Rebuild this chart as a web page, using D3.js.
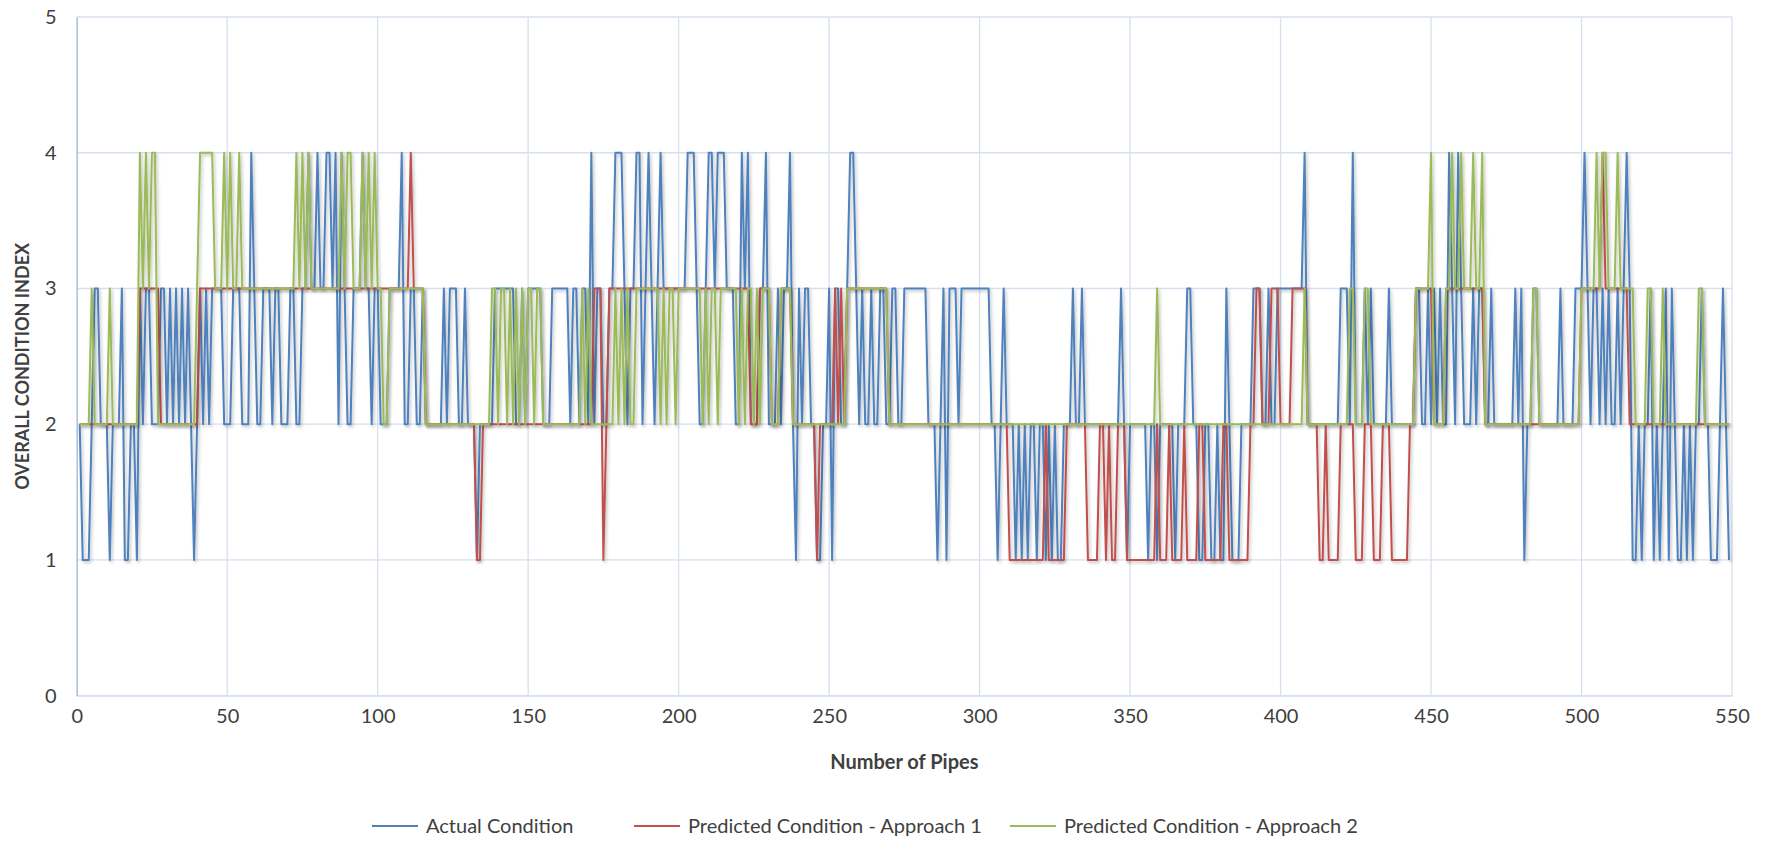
<!DOCTYPE html>
<html lang="en">
<head>
    <meta charset="UTF-8">
    <title>Overall Condition Index</title>
    <script src="https://d3js.org/d3.v7.min.js"></script>
    <style>
        body { margin: 0; background: #fff; }
        text { font-family: Lato, "Open Sans", sans-serif; fill: #404040; }
    </style>
</head>
<body>
    <div id="chart"></div>
    <script>
        // series values, pipe 1 .. 549
        const actual = [
            2,1,1,1,2,3,3,2,2,2, 1,2,2,2,3,1,1,2,2,1, 3,2,3,3,2,2,2,3,3,2, 3,2,3,2,3,2,3,2,1,2,
            3,2,3,2,3,3,3,3,2,2, 2,3,3,3,2,2,2,4,3,2, 2,3,3,3,2,3,3,2,2,2, 3,3,2,2,3,3,4,3,3,4,
            3,3,4,4,3,4,2,4,3,2, 2,3,3,3,4,3,3,2,3,3, 2,2,2,3,3,3,3,4,2,2, 3,3,2,2,3,2,2,2,2,2,
            2,3,2,3,3,3,2,2,3,2, 2,2,1,2,2,2,2,2,3,3, 3,3,3,3,3,2,2,3,2,3, 3,3,3,3,2,2,2,3,3,3,
            3,3,3,2,3,3,2,3,3,2, 4,2,3,3,2,2,3,3,4,4, 4,3,2,3,3,4,4,2,3,4, 3,2,3,4,3,3,3,3,3,3,
            3,3,4,4,4,3,2,2,3,4, 4,3,4,4,4,3,3,3,2,2, 4,3,4,2,2,2,3,3,4,2, 2,2,3,2,3,3,4,2,1,3,
            2,3,3,2,2,1,1,2,2,3, 1,3,3,2,2,3,4,4,3,2, 3,2,2,3,2,2,3,3,2,2, 3,3,2,2,3,3,3,3,3,3,
            3,3,2,2,2,1,2,3,1,3, 3,3,2,3,3,3,3,3,3,3, 3,3,3,2,2,1,2,3,2,2, 2,1,2,1,2,1,2,2,1,2,
            2,1,2,1,2,1,1,2,2,2, 3,2,2,3,2,2,2,2,2,2, 2,2,2,2,2,2,3,2,1,2, 2,2,2,2,2,1,2,2,1,2,
            2,2,2,2,1,2,2,2,3,3, 2,2,1,1,2,2,1,1,2,1, 1,3,2,1,1,1,2,2,2,2, 3,3,3,2,2,3,2,2,3,3,
            3,3,3,3,3,3,3,4,2,2, 2,2,2,2,2,2,2,2,2,3, 3,3,2,4,2,2,2,3,2,3, 2,2,2,2,2,3,2,2,2,2,
            2,2,2,2,3,3,2,2,3,2, 3,2,3,2,2,4,3,2,4,3, 2,2,2,3,2,3,3,2,2,3, 2,2,2,2,2,2,2,3,2,3,
            1,2,2,3,3,2,2,2,2,2, 2,2,3,2,2,2,2,3,3,3, 4,3,2,3,3,2,3,2,3,2, 2,3,2,3,4,3,1,1,2,1,
            2,2,3,1,2,1,2,3,1,3, 2,1,1,2,1,2,1,2,2,3, 2,2,1,1,1,2,3,2,1
        ];
        const approach1 = [
            2,2,2,2,2,2,2,2,2,2, 2,2,2,2,2,2,2,2,2,2, 3,3,3,3,3,3,3,2,2,2, 2,2,2,2,2,2,2,2,2,2,
            3,3,3,3,3,3,3,3,3,3, 3,3,3,3,3,3,3,3,3,3, 3,3,3,3,3,3,3,3,3,3, 3,3,3,3,3,3,3,3,3,3,
            3,3,3,3,3,3,3,3,3,3, 3,3,3,3,3,3,3,3,3,3, 3,3,3,3,3,3,3,3,3,3, 4,3,3,3,3,2,2,2,2,2,
            2,2,2,2,2,2,2,2,2,2, 2,2,1,1,2,2,2,2,2,2, 2,2,2,2,2,2,2,2,2,2, 2,2,2,2,2,2,2,2,2,2,
            2,2,2,2,2,2,2,2,2,2, 2,3,3,3,1,2,3,3,3,3, 3,3,3,3,3,3,3,3,3,3, 3,3,3,3,3,3,3,3,3,3,
            3,3,3,3,3,3,3,3,3,3, 3,3,3,3,3,3,3,3,3,3, 3,3,3,2,2,2,3,3,3,3, 2,2,2,3,3,3,3,2,2,2,
            2,2,2,2,2,1,2,2,2,2, 2,3,2,3,2,3,3,3,3,3, 3,3,3,3,3,3,3,3,3,2, 2,2,2,2,2,2,2,2,2,2,
            2,2,2,2,2,2,2,2,2,2, 2,2,2,2,2,2,2,2,2,2, 2,2,2,2,2,2,2,2,2,1, 1,1,1,1,1,1,1,1,1,1,
            1,2,1,1,1,1,1,1,2,2, 2,2,2,2,2,1,1,1,1,2, 2,1,2,1,1,2,2,2,1,1, 1,1,1,1,1,1,1,1,2,1,
            1,1,2,1,1,1,1,2,1,1, 1,1,2,2,1,1,1,1,1,1, 2,2,1,1,1,1,1,1,1,2, 2,3,3,2,2,2,3,3,3,2,
            2,2,2,3,3,3,3,3,2,2, 2,2,1,1,2,1,1,1,1,2, 2,2,2,2,1,1,1,2,2,2, 1,1,1,2,2,2,1,1,1,1,
            1,1,2,2,3,3,3,3,3,3, 2,2,2,2,3,3,3,3,3,3, 3,3,3,3,3,3,3,2,2,2, 2,2,2,2,2,2,2,2,2,2,
            2,2,2,2,2,2,2,2,2,2, 2,2,2,2,2,2,2,2,2,3, 3,3,3,3,3,3,4,3,3,3, 3,3,3,3,3,2,2,2,2,2,
            2,2,2,2,2,2,2,2,2,2, 2,2,2,2,2,2,2,2,2,2, 2,2,2,2,2,2,2,2,2
        ];
        const approach2 = [
            2,2,2,2,3,2,2,2,2,2, 3,2,2,2,2,2,2,2,2,2, 4,3,4,3,4,4,2,2,2,2, 2,2,2,2,2,2,2,2,2,3,
            4,4,4,4,4,3,3,3,4,3, 4,3,3,4,3,3,3,3,3,3, 3,3,3,3,3,3,3,3,3,3, 3,3,4,3,4,3,4,3,3,3,
            3,3,3,3,3,3,3,4,3,4, 4,3,3,3,4,3,4,3,4,3, 3,2,2,3,3,3,3,3,3,3, 3,3,3,3,3,2,2,2,2,2,
            2,2,2,2,2,2,2,2,2,2, 2,2,2,2,2,2,2,3,3,2, 3,3,2,3,2,3,2,3,2,3, 3,2,3,3,2,2,2,2,2,2,
            2,2,2,2,2,2,2,3,2,3, 2,2,2,2,2,2,2,2,3,2, 3,2,3,2,2,3,3,3,3,3, 3,3,3,2,3,2,3,3,2,3,
            3,3,3,3,3,3,3,2,3,2, 3,3,2,3,3,3,3,3,3,2, 3,2,3,3,2,3,2,3,3,3, 2,2,2,3,3,3,3,2,2,2,
            2,2,2,2,2,2,2,2,2,2, 2,2,2,2,2,3,3,3,3,3, 3,3,3,3,3,3,3,3,3,2, 2,2,2,2,2,2,2,2,2,2,
            2,2,2,2,2,2,2,2,2,2, 2,2,2,2,2,2,2,2,2,2, 2,2,2,2,2,2,2,2,2,2, 2,2,2,2,2,2,2,2,2,2,
            2,2,2,2,2,2,2,2,2,2, 2,2,2,2,2,2,2,2,2,2, 2,2,2,2,2,2,2,2,2,2, 2,2,2,2,2,2,2,2,3,2,
            2,2,2,2,2,2,2,2,2,2, 2,2,2,2,2,2,2,2,2,2, 2,2,2,2,2,2,2,2,2,2, 2,2,2,2,2,2,2,2,2,2,
            2,2,2,2,2,2,2,3,2,2, 2,2,2,2,2,2,2,2,2,2, 2,2,3,3,2,2,2,3,3,2, 2,2,2,2,2,2,2,2,2,2,
            2,2,2,2,3,3,3,3,3,4, 2,2,2,2,3,3,4,3,3,4, 3,3,3,4,3,3,4,2,2,2, 2,2,2,2,2,2,2,2,2,2,
            2,2,2,3,3,2,2,2,2,2, 2,2,2,2,2,2,2,2,2,3, 3,3,3,3,4,3,4,4,3,3, 3,4,3,3,3,3,3,2,2,2,
            2,3,3,2,2,2,3,2,2,2, 2,2,2,2,2,2,2,2,3,3, 2,2,2,2,2,2,2,2,2
        ];
        const seriesNames = ["Actual Condition", "Predicted Condition - Approach 1", "Predicted Condition - Approach 2"];
        const seriesColors = ["#4f81bd", "#c0504d", "#9bbb59"];
        const xTicks = [0, 50, 100, 150, 200, 250, 300, 350, 400, 450, 500, 550];
        const yTicks = [0, 1, 2, 3, 4, 5];

        const width = 1768, height = 843;
        const plot = { left: 76.7, right: 1732, top: 17, bottom: 695.7 };

        const svg = d3.select("#chart")
            .append("svg")
            .attr("width", width)
            .attr("height", height);

        const defs = svg.append("defs");
        const shadow = defs.append("filter").attr("id", "shadow")
            .attr("x", "-5%").attr("y", "-5%").attr("width", "110%").attr("height", "110%");
        shadow.append("feDropShadow")
            .attr("dx", 1.5).attr("dy", 2).attr("stdDeviation", 1.5)
            .attr("flood-color", "#000").attr("flood-opacity", 0.25);

        const x = d3.scaleLinear().domain([0, 550]).range([plot.left, plot.right]);
        const y = d3.scaleLinear().domain([0, 5]).range([plot.bottom, plot.top]);

        // grid
        svg.append("g")
            .selectAll("line")
            .data(yTicks)
            .join("line")
            .attr("x1", plot.left).attr("x2", plot.right)
            .attr("y1", d => y(d)).attr("y2", d => y(d))
            .attr("stroke", "#d6e0ef").attr("stroke-width", 1.3);

        svg.append("g")
            .selectAll("line")
            .data(xTicks.slice(1))
            .join("line")
            .attr("x1", d => x(d)).attr("x2", d => x(d))
            .attr("y1", plot.top).attr("y2", plot.bottom)
            .attr("stroke", "#d6e0ef").attr("stroke-width", 1.3);

        // axes
        const xAxis = svg.append("g")
            .attr("transform", `translate(0,${plot.bottom})`)
            .call(d3.axisBottom(x).tickValues(xTicks).tickFormat(d3.format("d")).tickSize(0).tickPadding(13));
        xAxis.select(".domain").attr("stroke", "#d6e0ef").attr("stroke-width", 1.3);
        xAxis.selectAll("text").attr("font-size", 20).attr("fill", "#404040")
            .style("font-family", "Lato, 'Open Sans', sans-serif");

        const yAxis = svg.append("g")
            .attr("transform", `translate(${plot.left},0)`)
            .call(d3.axisLeft(y).tickValues(yTicks).tickFormat(d3.format("d")).tickSize(0).tickPadding(20));
        yAxis.select(".domain").attr("stroke", "#a9bfdc").attr("stroke-width", 1.5);
        yAxis.selectAll("text").attr("font-size", 20).attr("fill", "#404040")
            .style("font-family", "Lato, 'Open Sans', sans-serif");

        // axis titles
        svg.append("text")
            .attr("x", (plot.left + plot.right) / 2)
            .attr("y", 769)
            .attr("text-anchor", "middle")
            .attr("font-size", 20)
            .attr("font-weight", "bold")
            .text("Number of Pipes");

        svg.append("text")
            .attr("transform", `translate(29,${(plot.top + plot.bottom) / 2 + 10}) rotate(-90)`)
            .attr("text-anchor", "middle")
            .attr("font-size", 18)
            .attr("font-weight", "bold")
            .text("OVERALL CONDITION INDEX");

        // lines
        const line = d3.line()
            .x((d, i) => x(i + 1))
            .y(d => y(d));

        [actual, approach1, approach2].forEach((s, k) => {
            svg.append("path")
                .datum(s)
                .attr("fill", "none")
                .attr("stroke", seriesColors[k])
                .attr("stroke-width", 2)
                .attr("stroke-linejoin", "round")
                .attr("filter", "url(#shadow)")
                .attr("d", line);
        });

        // legend
        const legendX = [372, 634, 1010];
        const legend = svg.append("g");
        seriesNames.forEach((name, k) => {
            const g = legend.append("g").attr("transform", `translate(${legendX[k]},826)`);
            g.append("line")
                .attr("x1", 0).attr("x2", 46)
                .attr("stroke", seriesColors[k]).attr("stroke-width", 2);
            g.append("text")
                .attr("x", 54).attr("y", 7)
                .attr("font-size", 20)
                .text(name);
        });
    </script>
</body>
</html>
